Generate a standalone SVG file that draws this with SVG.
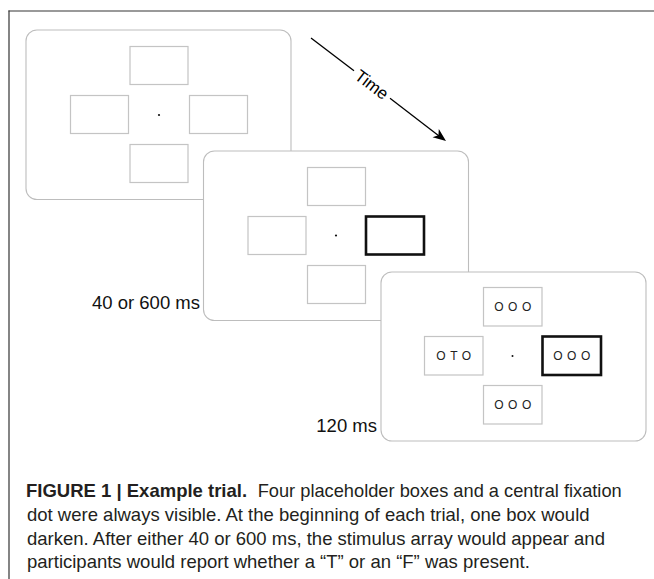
<svg xmlns="http://www.w3.org/2000/svg" width="654" height="579" viewBox="0 0 654 579">
<style>
.frame{fill:#fff;stroke:#bdbdbd;stroke-width:1.1}
.box{fill:none;stroke:#c4c4c4;stroke-width:1.2}
.dark{fill:none;stroke:#111;stroke-width:2.6}
.dot{fill:#111}
.lbl{font-family:"Liberation Sans",Arial,sans-serif;font-size:18.5px;fill:#111}
.let{font-family:"Liberation Sans",Arial,sans-serif;font-size:12px;fill:#222;letter-spacing:4.5px;text-anchor:middle}
.cap{font-family:"Liberation Sans",Arial,sans-serif;font-size:18.5px;fill:#231f20}
</style>
<rect width="654" height="579" fill="#fff"/>
<line x1="8.5" y1="11" x2="654" y2="11" stroke="#777" stroke-width="1.6"/>
<line x1="9" y1="10.5" x2="9" y2="579" stroke="#333" stroke-width="1.2"/>

<g id="panel1" transform="translate(26,30)">
<rect class="frame" x="0" y="0" width="265" height="169.5" rx="11"/>
<rect class="box" x="104" y="16.5" width="58" height="38"/>
<rect class="box" x="44.5" y="65.5" width="58" height="38"/>
<rect class="box" x="163.5" y="65.5" width="58" height="38"/>
<rect class="box" x="104" y="114.5" width="58" height="38"/>
<circle class="dot" cx="133" cy="85" r="1.1"/>
</g>

<g id="panel2" transform="translate(203.5,151)">
<rect class="frame" x="0" y="0" width="265" height="169.5" rx="11"/>
<rect class="box" x="104" y="16.5" width="58" height="38"/>
<rect class="box" x="44.5" y="65.5" width="58" height="38"/>
<rect class="dark" x="162.5" y="65.5" width="58" height="38"/>
<rect class="box" x="104" y="114.5" width="58" height="38"/>
<circle class="dot" cx="132.5" cy="84.5" r="1.1"/>
</g>

<g id="panel3" transform="translate(381,272)">
<rect class="frame" x="0" y="0" width="265" height="169" rx="11"/>
<rect class="box" x="102.5" y="15.5" width="58.5" height="38.5"/>
<rect class="box" x="43.5" y="64.5" width="58.5" height="38.5"/>
<rect class="dark" x="161.5" y="64.5" width="58.5" height="38.5"/>
<rect class="box" x="102.5" y="113.5" width="58.5" height="38.5"/>
<circle class="dot" cx="131.5" cy="84" r="1"/>
<text class="let" x="134" y="39.1">OOO</text>
<text class="let" x="75" y="88.1">OTO</text>
<text class="let" x="193" y="88.1">OOO</text>
<text class="let" x="134" y="137.1">OOO</text>
</g>

<g id="label-40-600">
<text class="lbl" x="200" y="309" text-anchor="end">40 or 600 ms</text>
</g>
<g id="label-120">
<text class="lbl" x="377" y="432" text-anchor="end">120 ms</text>
</g>

<g id="connectors">
<line x1="311" y1="38" x2="354" y2="70.7" stroke="#000" stroke-width="1.3"/>
<line x1="390" y1="98.3" x2="441" y2="137.5" stroke="#000" stroke-width="1.3"/>
<path d="M0,0 L-13,-5.2 L-9.5,0 L-13,5.2 Z" fill="#000" transform="translate(446,141) rotate(37.3)"/>
<text x="0" y="6" text-anchor="middle" transform="translate(372,84.5) rotate(37.3)" font-family="Liberation Sans,Arial,sans-serif" font-size="17" fill="#000">Time</text>
</g>

<g id="caption">
<text class="cap" x="26" y="497" font-weight="bold">FIGURE 1 | Example trial.</text>
<text class="cap" x="257.7" y="497" textLength="364" lengthAdjust="spacingAndGlyphs">Four placeholder boxes and a central fixation</text>
<text class="cap" x="27" y="520.7">dot were always visible. At the beginning of each trial, one box would</text>
<text class="cap" x="27" y="544.5">darken. After either 40 or 600 ms, the stimulus array would appear and</text>
<text class="cap" x="27" y="568.3">participants would report whether a “T” or an “F” was present.</text>
</g>
</svg>
